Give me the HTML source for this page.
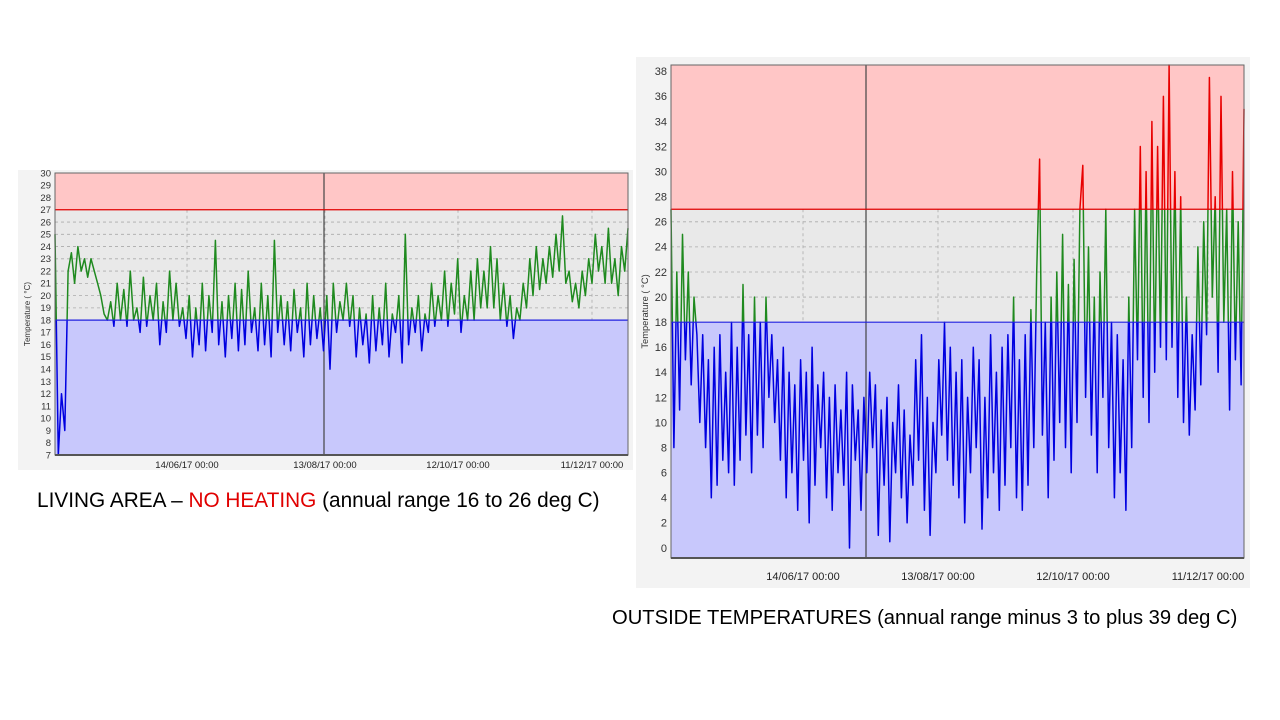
<!DOCTYPE html>
<html><head><meta charset="utf-8"><style>
body{margin:0;width:1280px;height:720px;background:#fff;position:relative;overflow:hidden;font-family:"Liberation Sans",sans-serif}
.cap{position:absolute;color:#000;white-space:nowrap}
</style></head><body>
<svg id="svg" width="1280" height="720" style="position:absolute;left:0;top:0"></svg>
<div class="cap" style="left:37px;top:489px;font-size:20.8px">LIVING AREA – <span style="color:#e00000">NO HEATING</span> (annual range 16 to 26 deg C)</div>
<div class="cap" style="left:612px;top:607px;font-size:20.2px">OUTSIDE TEMPERATURES (annual range minus 3 to plus 39 deg C)</div>
<script>
const leftValues=[25,7,12,9,22,23.5,21,24,22,23,21.5,23,22,21,20,18.5,18,19.5,17.5,21,18,20.5,17.5,22,18,19,17,21.5,17.5,20,18,21,16,19.5,17,22,18,21,17.5,19,16.5,20,15,19,16,21,15.5,20,17,24.5,16,19.5,15,20,16.5,21,15.5,20.5,16,22,17,19,15.5,21,16,20,15,24.5,17,20,16,19.5,15.5,20.5,17,19,15,21,16,20,16.5,19,15.5,20,14,21,17,19.5,18,21,17.5,20,15,19,16,18.5,14.5,20,15.5,19,16,21,15,18.5,17,20,14.5,25,16,19,17,20,15.5,18.5,17,21,17.5,20,18,22,17.5,21,18.5,23,17,20,18,22,18,23,19,22,19,24,19,23,18,21,17.5,20,16.5,19,18,21,19,23,20,24,20.5,23,21,24,21.5,25,22,26.5,21,22,19.5,21,19,22,20,23,21,25,22,24,21,25.5,21,23,20,24,22,25.5];
const rightValues=[27,8,22,11,25,15,22,13,20,17,10,17,8,15,4,16,5,17,7,14,6,18,5,16,7,21,9,17,6,20,9,18,8,20,12,17,10,15,7,16,4,14,6,13,3,15,7,14,2,16,5,13,8,14,4,12,3,13,6,11,5,14,0,13,7,11,3,12,6,14,8,13,1,11,5,12,0.5,10,6,13,4,11,2,9,5,15,7,17,3,12,1,10,6,15,9,18,7,16,5,14,4,15,2,12,6,16,8,15,1.5,12,4,17,6,14,3,16,5,17,8,20,4,15,3,17,5,19,8,22,31,9,18,4,20,7,22,10,25,8,21,6,23,10,27,30.5,12,24,9,20,6,22,12,27,8,18,4,17,6,15,3,20,8,27,15,32,12,30,10,34,14,32,16,36,15,38.5,16,30,12,28,10,20,9,17,11,24,13,26,17,37.5,20,28,14,36,18,27,11,30,15,26,13,35];
const leftTicks=[30,29,28,27,26,25,24,23,22,21,20,19,18,17,16,15,14,13,12,11,10,9,8,7];
const rightTicks=[38,36,34,32,30,28,26,24,22,20,18,16,14,12,10,8,6,4,2,0];
const dateLabels=["14/06/17 00:00","13/08/17 00:00","12/10/17 00:00","11/12/17 00:00"];
const hiLimit=27, loLimit=18;

const NS="http://www.w3.org/2000/svg";
const svg=document.getElementById('svg');
function mk(tag,attrs,parent){const e=document.createElementNS(NS,tag);for(const k in attrs)e.setAttribute(k,attrs[k]);(parent||svg).appendChild(e);return e;}

function chart(id,c,values,ticks){
  const g=mk('g',{});
  
  
  const y=v=>c.y0+(c.vmax-v)*(c.y1-c.y0)/(c.vmax-c.vmin);
  const x=i=>c.x0+i*(c.x1-c.x0)/(values.length-1);
  const panel=mk('rect',{x:c.px,y:c.py,width:c.pw,height:c.ph,fill:'#f3f3f3'},g);
  
  
  const yh=y(hiLimit), yl=y(loLimit);
  mk('rect',{x:c.x0,y:c.y0,width:c.x1-c.x0,height:yh-c.y0,fill:'#ffc6c6'},g);
  mk('rect',{x:c.x0,y:yh,width:c.x1-c.x0,height:yl-yh,fill:'#e9e9e9'},g);
  mk('rect',{x:c.x0,y:yl,width:c.x1-c.x0,height:c.y1-yl,fill:'#c8c8fc'},g);
  ticks.forEach(t=>{const yy=y(t);if(yy>yh+1&&yy<yl-1)mk('line',{x1:c.x0,x2:c.x1,y1:yy,y2:yy,stroke:'#aaa','stroke-dasharray':'3,3','stroke-width':0.8},g);});
  c.dateX.forEach(dx=>mk('line',{x1:dx,x2:dx,y1:yh,y2:yl,stroke:'#aaa','stroke-dasharray':'3,3','stroke-width':0.8},g));
  mk('line',{x1:c.vline,x2:c.vline,y1:c.y0,y2:c.y1,stroke:'#444','stroke-width':1.2},g);
  const pts=values.map((v,i)=>x(i).toFixed(1)+','+y(v).toFixed(1)).join(' ');
  const bands=[[c.y0-20,yh,'#e80000'],[yh,yl,'#1f8a1f'],[yl,c.y1+20,'#0000e0']];
  bands.forEach((b,k)=>{
    const cp=mk('clipPath',{id:id+'clip'+k},g);
    mk('rect',{x:c.x0-5,y:b[0],width:c.x1-c.x0+10,height:b[1]-b[0]},cp);
    const pl=mk('polyline',{points:pts,fill:'none',stroke:b[2],'stroke-width':1.5,'stroke-linejoin':'round','clip-path':'url(#'+id+'clip'+k+')'},g);
    
    
  });
  mk('line',{x1:c.x0,x2:c.x1,y1:yh,y2:yh,stroke:'#e00000','stroke-width':1.2},g);
  mk('line',{x1:c.x0,x2:c.x1,y1:yl,y2:yl,stroke:'#2020e0','stroke-width':1.2},g);
  mk('rect',{x:c.x0,y:c.y0,width:c.x1-c.x0,height:c.y1-c.y0,fill:'none',stroke:'#666','stroke-width':1},g);
  mk('line',{x1:c.x0,x2:c.x1,y1:c.y1,y2:c.y1,stroke:'#555','stroke-width':2},g);
  ticks.forEach(t=>{const tx=mk('text',{x:c.x0-4,y:y(t)+c.fs*0.35,'text-anchor':'end','font-size':c.fs,fill:'#333'},g);tx.textContent=t;
    });
  dateLabels.forEach((d,i)=>{const tx=mk('text',{x:c.dateX[i],y:c.y1+c.dy,'text-anchor':'middle','font-size':c.fs,fill:'#222'},g);tx.textContent=d;
    });
  const yt=mk('text',{x:0,y:0,'text-anchor':'middle','font-size':c.fs*0.85,fill:'#333',transform:'translate('+c.ylx+','+((c.y0+c.y1)/2)+') rotate(-90)'},g);
  yt.textContent='Temperature ( °C)';
  
  
}
chart('living-area-chart',{px:18,py:170,pw:615,ph:300,x0:55,x1:628,y0:173,y1:455,vmin:7,vmax:30,vline:324,dateX:[187,325,458,592],fs:9.5,dy:13,ylx:30},leftValues,leftTicks);
chart('outside-chart',{px:636,py:57,pw:614,ph:531,x0:671,x1:1244,y0:65,y1:558,vmin:-0.8,vmax:38.5,vline:866,dateX:[803,938,1073,1208],fs:11,dy:22,ylx:648},rightValues,rightTicks);
</script>
</body></html>
